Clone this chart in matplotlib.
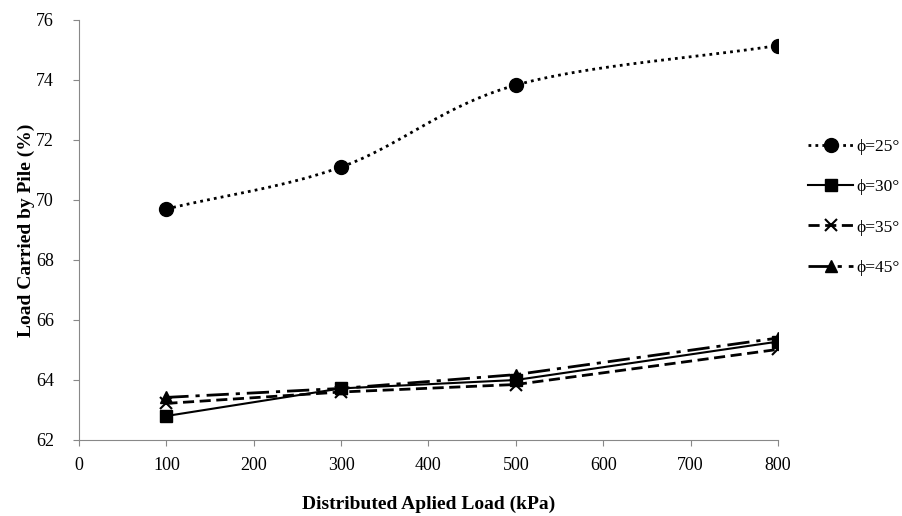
import numpy as np
import matplotlib
matplotlib.use("Agg")
import matplotlib.pyplot as plt

plt.rcParams['font.family'] = ['Liberation Serif', 'DejaVu Serif']

loads = [100, 300, 500, 800]
phi_25 = [69.7, 71.1, 73.83, 75.15]
phi_30 = [62.8, 63.72, 64.0, 65.28]
phi_35 = [63.22, 63.6, 63.85, 65.02]
phi_45 = [63.42, 63.72, 64.18, 65.4]
labels = ["ϕ=25°", "ϕ=30°", "ϕ=35°", "ϕ=45°"]


def smooth_curve(xs, ys, n=40):
    # catmull-rom style smoothing, like excel "smoothed line"
    xs = np.asarray(xs, float)
    ys = np.asarray(ys, float)
    px = np.concatenate([[2 * xs[0] - xs[1]], xs, [2 * xs[-1] - xs[-2]]])
    py = np.concatenate([[2 * ys[0] - ys[1]], ys, [2 * ys[-1] - ys[-2]]])
    out_x, out_y = [], []
    for i in range(1, len(px) - 2):
        t = np.linspace(0, 1, n)
        for p, o in ((px, out_x), (py, out_y)):
            p0, p1, p2, p3 = p[i - 1], p[i], p[i + 1], p[i + 2]
            m1 = (p2 - p0) / 2.0
            m2 = (p3 - p1) / 2.0
            h00 = 2 * t**3 - 3 * t**2 + 1
            h10 = t**3 - 2 * t**2 + t
            h01 = -2 * t**3 + 3 * t**2
            h11 = t**3 - t**2
            o.extend(h00 * p1 + h10 * m1 + h01 * p2 + h11 * m2)
    return out_x, out_y


fig = plt.figure(figsize=(9.03, 5.16), dpi=100)
ax = fig.add_axes([79 / 903, 1 - 440 / 516, (778 - 79) / 903, 420 / 516])

sx, sy = smooth_curve(loads, phi_25)
ax.plot(sx, sy, color="black", linestyle=(0, (1, 1.5)), linewidth=2)
ax.plot(loads, phi_25, linestyle="none", marker="o", color="black", markersize=10)
h25, = ax.plot([], [], color="black", linestyle=(0, (1, 1.5)), linewidth=2, marker="o", markersize=10)

h30, = ax.plot(loads, phi_30, color="black", linestyle="-", linewidth=1.5, marker="s", markersize=9)
h35, = ax.plot(loads, phi_35, color="black", linestyle=(0, (4, 2)), linewidth=2, marker="x",
               markersize=9, markeredgewidth=1.5)
h45, = ax.plot(loads, phi_45, color="black", linestyle=(0, (8, 2.5, 1.5, 2.5)), linewidth=2,
               marker="^", markersize=9)

ax.set_xlim(0, 800)
ax.set_ylim(62, 76)
ax.set_xticks(range(0, 801, 100))
ax.set_yticks(range(62, 77, 2))
for side in ["top", "right"]:
    ax.spines[side].set_visible(False)
for side in ["left", "bottom"]:
    ax.spines[side].set_color("#888888")
ax.tick_params(colors="#888888", labelcolor="black", labelsize=13, length=4, direction="out")
ax.tick_params(axis="y", pad=14)
ax.tick_params(axis="x", pad=8)

ax.set_xlabel("Distributed Aplied Load (kPa)", fontsize=14, fontweight="bold", labelpad=16)
ax.set_ylabel("Load Carried by Pile (%)", fontsize=14, fontweight="bold", labelpad=1)

fig.legend([h25, h30, h35, h45], labels, loc="upper left", bbox_to_anchor=(796 / 903, 1 - 127 / 516),
           frameon=False, fontsize=12.5, handlelength=2.6, handletextpad=0.2, labelspacing=1.38,
           borderaxespad=0.3)

fig.savefig("out.png", dpi=100)
